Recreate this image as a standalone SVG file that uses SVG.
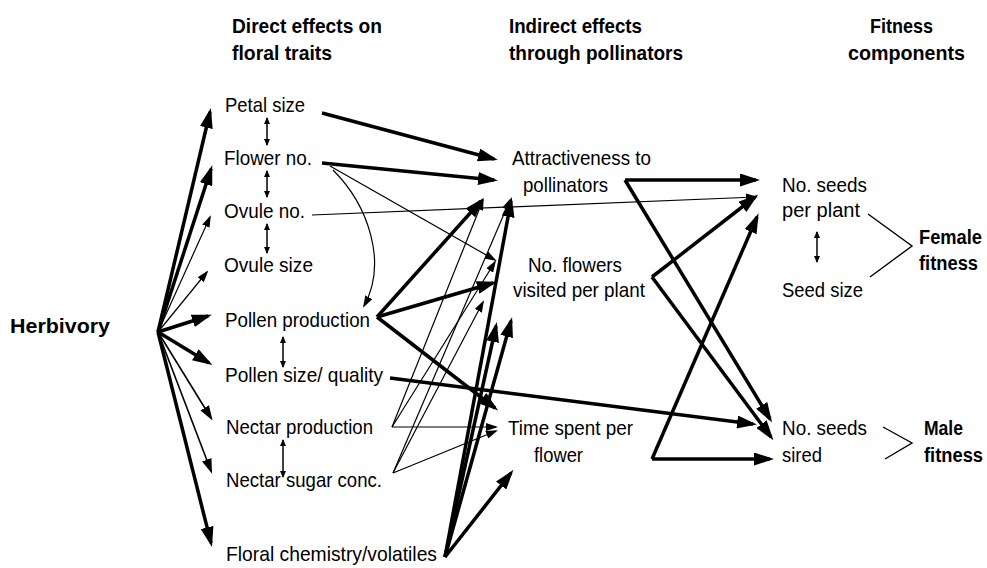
<svg xmlns="http://www.w3.org/2000/svg" width="987" height="568" viewBox="0 0 987 568">
<defs>
<marker id="big" markerUnits="userSpaceOnUse" markerWidth="20" markerHeight="13" refX="16" refY="6.5" orient="auto"><path d="M0,0 L20,6.5 L0,13 z"/></marker>
<marker id="mid" markerUnits="userSpaceOnUse" markerWidth="15" markerHeight="10" refX="12" refY="5" orient="auto"><path d="M0,0 L15,5 L0,10 z"/></marker>
<marker id="small" markerUnits="userSpaceOnUse" markerWidth="12" markerHeight="8" refX="10" refY="4" orient="auto"><path d="M0,0 L12,4 L0,8 z"/></marker>
<marker id="tiny" markerUnits="userSpaceOnUse" markerWidth="7" markerHeight="6" refX="6" refY="3" orient="auto-start-reverse"><path d="M0,0 L7,3 L0,6 z"/></marker>
</defs>
<style>
text{font-family:"Liberation Sans",Arial,sans-serif;font-size:21px;fill:#000}
.b{font-weight:bold}
.r{font-size:20px}
line,path,polyline{stroke:#000;fill:none}
.k{stroke-width:3.5;marker-end:url(#big)}
.m{stroke-width:1.6;marker-end:url(#mid)}
.t{stroke-width:1.2;marker-end:url(#small)}
.d{stroke-width:1.5;marker-start:url(#tiny);marker-end:url(#tiny)}
.br{stroke-width:1.4}
marker path{fill:#000;stroke:none}
</style>
<rect width="987" height="568" fill="#fff"/>

<g id="headers">
<text class="b" x="232" y="33" textLength="150" lengthAdjust="spacingAndGlyphs">Direct effects on</text>
<text class="b" x="232" y="60" textLength="100" lengthAdjust="spacingAndGlyphs">floral traits</text>
<text class="b" x="509" y="33" textLength="133" lengthAdjust="spacingAndGlyphs">Indirect effects</text>
<text class="b" x="509" y="60" textLength="174" lengthAdjust="spacingAndGlyphs">through pollinators</text>
<text class="b" x="870" y="33" textLength="63" lengthAdjust="spacingAndGlyphs">Fitness</text>
<text class="b" x="848" y="60" textLength="117" lengthAdjust="spacingAndGlyphs">components</text>
</g>

<g id="herbivory"><text class="b" x="10" y="333" textLength="100" lengthAdjust="spacingAndGlyphs">Herbivory</text></g>
<g id="petal-size"><text x="225" y="112" textLength="80" lengthAdjust="spacingAndGlyphs">Petal size</text></g>
<g id="flower-no"><text x="224" y="165" textLength="88" lengthAdjust="spacingAndGlyphs">Flower no.</text></g>
<g id="ovule-no"><text x="224" y="218" textLength="81" lengthAdjust="spacingAndGlyphs">Ovule no.</text></g>
<g id="ovule-size"><text x="224" y="272" textLength="89" lengthAdjust="spacingAndGlyphs">Ovule size</text></g>
<g id="pollen-production"><text x="225" y="327" textLength="145" lengthAdjust="spacingAndGlyphs">Pollen production</text></g>
<g id="pollen-size"><text x="225" y="382" textLength="158" lengthAdjust="spacingAndGlyphs">Pollen size/ quality</text></g>
<g id="nectar-production"><text x="226" y="434" textLength="147" lengthAdjust="spacingAndGlyphs">Nectar production</text></g>
<g id="nectar-sugar"><text x="226" y="487" textLength="156" lengthAdjust="spacingAndGlyphs">Nectar sugar conc.</text></g>
<g id="floral-chemistry"><text x="226" y="561" textLength="211" lengthAdjust="spacingAndGlyphs">Floral chemistry/volatiles</text></g>

<g id="attractiveness">
<text x="512" y="165" textLength="139" lengthAdjust="spacingAndGlyphs">Attractiveness to</text>
<text x="523" y="192" textLength="85" lengthAdjust="spacingAndGlyphs">pollinators</text>
</g>
<g id="flowers-visited">
<text x="528" y="272" textLength="94" lengthAdjust="spacingAndGlyphs">No. flowers</text>
<text x="513" y="297" textLength="132" lengthAdjust="spacingAndGlyphs">visited per plant</text>
</g>
<g id="time-spent">
<text x="508" y="435" textLength="125" lengthAdjust="spacingAndGlyphs">Time spent per</text>
<text x="534" y="462" textLength="49" lengthAdjust="spacingAndGlyphs">flower</text>
</g>

<g id="seeds-per-plant">
<text class="r" x="782" y="192" textLength="85" lengthAdjust="spacingAndGlyphs">No. seeds</text>
<text class="r" x="782" y="217" textLength="78" lengthAdjust="spacingAndGlyphs">per  plant</text>
</g>
<g id="seed-size"><text class="r" x="782" y="297" textLength="81" lengthAdjust="spacingAndGlyphs">Seed size</text></g>
<g id="seeds-sired">
<text class="r" x="782" y="435" textLength="85" lengthAdjust="spacingAndGlyphs">No. seeds</text>
<text class="r" x="782" y="462" textLength="40" lengthAdjust="spacingAndGlyphs">sired</text>
</g>
<g id="female-fitness">
<text class="b r" x="919" y="244" textLength="63" lengthAdjust="spacingAndGlyphs">Female</text>
<text class="b r" x="919" y="270" textLength="59" lengthAdjust="spacingAndGlyphs">fitness</text>
</g>
<g id="male-fitness">
<text class="b r" x="924" y="435" textLength="39" lengthAdjust="spacingAndGlyphs">Male</text>
<text class="b r" x="924" y="462" textLength="59" lengthAdjust="spacingAndGlyphs">fitness</text>
</g>

<g id="connectors">
<!-- herbivory fan -->
<line class="k" x1="158" y1="332" x2="210" y2="112"/>
<line class="k" x1="158" y1="332" x2="211" y2="169"/>
<line class="t" x1="158" y1="332" x2="210" y2="217"/>
<line class="t" x1="158" y1="332" x2="207" y2="272"/>
<line class="k" x1="158" y1="332" x2="208" y2="316"/>
<line class="k" x1="158" y1="332" x2="209" y2="363"/>
<line class="m" x1="158" y1="332" x2="211" y2="418"/>
<line class="m" x1="158" y1="332" x2="211" y2="471"/>
<line class="k" stroke-width="3" x1="158" y1="332" x2="211" y2="543"/>
<!-- trait correlations -->
<line class="d" x1="267" y1="118" x2="267" y2="145"/>
<line class="d" x1="267" y1="171" x2="267" y2="197"/>
<line class="d" x1="267" y1="224" x2="267" y2="253"/>
<line class="d" x1="283" y1="337" x2="283" y2="367"/>
<line class="d" x1="283" y1="440" x2="283" y2="477"/>
<line class="d" x1="817" y1="232" x2="817" y2="262"/>
<!-- traits to pollinator effects -->
<line class="k" x1="322" y1="113" x2="494" y2="159"/>
<line class="k" x1="322" y1="163" x2="494" y2="180"/>
<line class="t" x1="330" y1="166" x2="495" y2="260"/>
<path class="t" d="M333,170 C368,205 388,262 364,306"/>
<line class="t" x1="312" y1="215" x2="756" y2="197"/>
<line class="k" x1="377" y1="317" x2="481" y2="201"/>
<line class="k" x1="377" y1="317" x2="493" y2="283"/>
<line class="k" x1="377" y1="317" x2="495" y2="408"/>
<line class="k" x1="390" y1="378" x2="753" y2="424"/>
<line class="t" x1="392" y1="427" x2="483" y2="200"/>
<line class="t" x1="392" y1="427" x2="495" y2="262"/>
<line class="t" x1="392" y1="427" x2="496" y2="427"/>
<line class="t" x1="393" y1="473" x2="510" y2="200"/>
<line class="t" x1="393" y1="473" x2="483" y2="302"/>
<line class="t" x1="393" y1="473" x2="496" y2="431"/>
<line class="k" x1="445" y1="557" x2="511" y2="473"/>
<line class="k" x1="445" y1="557" x2="496" y2="326"/>
<line class="k" x1="445" y1="557" x2="511" y2="321"/>
<line class="k" x1="445" y1="557" x2="511" y2="201"/>
<!-- pollinator effects to fitness -->
<line class="k" x1="625" y1="180" x2="756" y2="180"/>
<line class="k" x1="625" y1="180" x2="770" y2="419"/>
<line class="k" x1="652" y1="277" x2="755" y2="197"/>
<line class="k" x1="652" y1="277" x2="771" y2="437"/>
<line class="k" x1="652" y1="459" x2="770" y2="459"/>
<line class="k" x1="652" y1="459" x2="757" y2="217"/>
<!-- brackets -->
<polyline class="br" points="868,214 912,246 870,277"/>
<polyline class="br" points="883,427 912,443 885,459"/>
</g>
</svg>
